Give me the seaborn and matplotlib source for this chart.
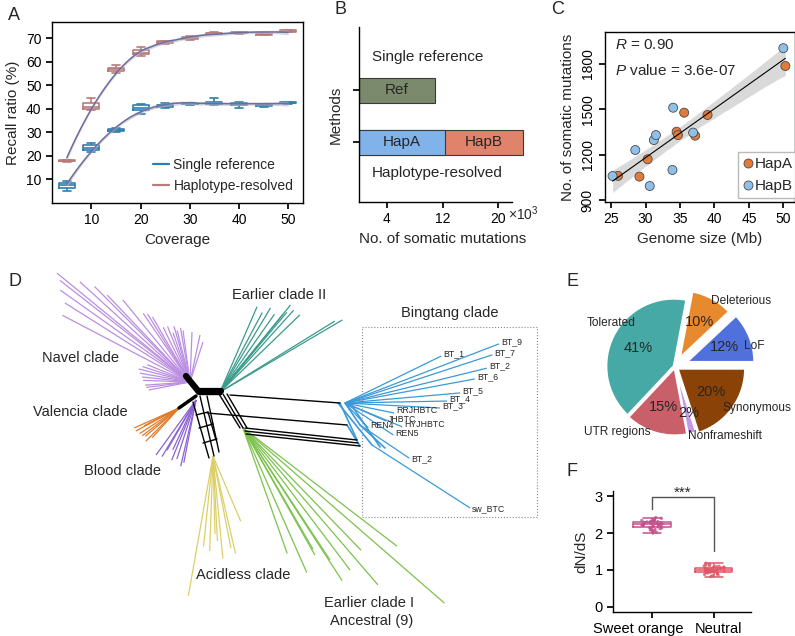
import numpy as np
import pandas as pd
import matplotlib
matplotlib.use("Agg")
import matplotlib.pyplot as plt
import matplotlib.transforms as mtransforms
from matplotlib.lines import Line2D
import seaborn as sns

# ---------------- data ----------------
# A: recall ratio per coverage, five replicates each
coverage = [5, 10, 15, 20, 25, 30, 35, 40, 45, 50]
single_reps = [
    [5.0, 6.5, 7.5, 8.5, 9.5],
    [21.5, 22.5, 23.5, 24.5, 25.5],
    [30.2, 30.5, 31.0, 31.4, 31.8],
    [38.0, 39.5, 40.5, 41.5, 42.0],
    [40.5, 41.0, 41.5, 41.8, 42.5],
    [41.8, 42.0, 42.1, 42.3, 42.5],
    [41.5, 42.0, 42.5, 43.0, 44.5],
    [40.5, 41.5, 42.0, 42.5, 43.0],
    [41.0, 41.3, 41.6, 42.0, 42.3],
    [42.3, 42.5, 42.7, 42.9, 43.0],
]
hap_reps = [
    [17.6, 17.8, 18.0, 18.2, 18.4],
    [39.5, 40.2, 41.0, 42.5, 44.5],
    [55.5, 56.0, 56.8, 57.5, 58.5],
    [62.5, 63.2, 64.0, 65.0, 66.5],
    [67.5, 68.0, 68.3, 68.8, 69.0],
    [69.2, 69.6, 70.0, 70.5, 71.0],
    [71.7, 72.0, 72.2, 72.4, 72.6],
    [72.0, 72.2, 72.4, 72.6, 72.8],
    [71.3, 71.6, 71.8, 72.0, 72.2],
    [72.6, 72.9, 73.1, 73.4, 73.7],
]
methods_a = ["Single reference", "Haplotype-resolved"]

# B: somatic mutations (x10^3)
methods_b = ["Single reference", "Haplotype-resolved"]
ref_mut = 10.9
hapA_mut_total = 12.3
hapB_mut_total = 11.3

# C: genome size vs somatic mutations
hapA_size = [26.0, 29.1, 30.3, 34.5, 34.7, 35.6, 37.2, 39.0, 50.3]
hapA_mut = [1060, 1055, 1170, 1352, 1330, 1478, 1326, 1463, 1787]
hapB_size = [25.2, 28.5, 30.6, 31.2, 31.5, 33.9, 34.0, 36.9, 50.0]
hapB_mut = [1059, 1231, 993, 1297, 1330, 1099, 1511, 1346, 1905]

# E: mutation effect categories (%)
effect_labels = ["LoF", "Deleterious", "Tolerated", "UTR regions", "Nonframeshift", "Synonymous"]
effect_pct = [12, 10, 41, 15, 2, 20]

# F: dN/dS
sweet_dnds = [2.00, 2.02, 2.05, 2.06, 2.08, 2.10, 2.11, 2.12, 2.14, 2.15, 2.17, 2.18, 2.19, 2.20,
              2.21, 2.22, 2.22, 2.23, 2.24, 2.24, 2.25, 2.25, 2.26, 2.26, 2.27, 2.27, 2.28, 2.28,
              2.29, 2.30, 2.30, 2.31, 2.32, 2.33, 2.34, 2.35, 2.36, 2.38, 2.40, 2.42]
neutral_dnds = [0.82, 0.85, 0.86, 0.88, 0.90, 0.91, 0.92, 0.93, 0.94, 0.95, 0.96, 0.97, 0.97, 0.98,
                0.98, 0.99, 0.99, 1.00, 1.00, 1.00, 1.01, 1.01, 1.02, 1.02, 1.03, 1.03, 1.04, 1.04,
                1.05, 1.05, 1.06, 1.07, 1.08, 1.09, 1.10, 1.11, 1.12, 1.14, 1.16, 1.18]

# D: network layout (hub node, ray angle in degrees, ray length)
navel_hub = (190, 382)
navel_ang = [140.7, 144.7, 147.7, 152.4, 137.7, 133.6, 129.3, 124.3, 116.1, 109, 97.7, 87.7, 78, 72,
             100, 104, 106, 112, 120, 122, 135, 142, 158, 165.7, 170, 174, 184, 191, 162, 178, 187]
navel_len = [172, 159, 148, 144, 149, 120, 106, 83, 61, 52, 52, 50, 48, 42,
             55, 53, 58, 60, 75, 80, 135, 165, 46, 53, 51, 48, 45, 42, 50, 47, 44]
valencia_hub = (179, 408)
valencia_ang = [204, 208, 213, 217, 225, 228, 207, 220]
valencia_len = [49, 49, 47, 46, 47, 40, 39, 44]
blood_hub = (196, 400)
blood_ang = [234, 239, 240, 248, 257, 259, 245, 252]
blood_len = [68, 66, 58, 65, 68, 64, 55, 62]
acidless_hub = (213, 456)
acidless_ang = [260, 264, 271.5, 275.5, 281, 283, 293, 273, 268]
acidless_len = [142, 91, 78, 103, 94, 100, 71, 85, 95]
early2_hub = (220, 392)
early2_ang = [66.5, 59, 51, 44, 48, 50, 51, 30.5, 31.7, 55, 62]
early2_len = [93, 98, 112, 111, 110, 104, 100, 142, 135, 95, 90]
early1_hub = (243, 428)
early1_ang = [293.8, 289.4, 299.5, 322.5, 319, 314, 303, 307, 310.7, 303.4, 300]
early1_len = [158, 133, 146, 194, 267, 170, 182, 178, 207, 158, 140]
bt_hub = (345, 403)
bt_names = ["BT_9", "BT_1", "BT_7", "BT_2", "BT_6", "BT_5", "BT_4", "BT_3",
            "RRJHBTC", "JHBTC", "REN4", "HYJHBTC", "REN5"]
bt_ang = [21, 26, 18.1, 13.8, 10.5, 5, 1.1, -3, -11.5, -23.7, -47, -22.6, -33.5]
bt_len = [165, 107, 155, 146, 132, 115.4, 102, 95, 50, 45, 34, 62, 58]
bt_low_hubs = [(360, 425), (372, 445)]
bt_low_names = ["BT_2", "sw_BTC"]
bt_low_ang = [-34, -32.7]
bt_low_len = [59, 116]
black_net = [
    [(186, 376), (199, 392)], [(199, 391), (221, 391)], [(196, 396), (179, 408)],
    [(199, 394), (221, 394)],
    [(193, 402), (209, 458)], [(200, 396), (214, 456)], [(207, 396), (219, 452)],
    [(196, 415), (208, 412)], [(199, 428), (213, 424)], [(203, 443), (217, 439)],
    [(208, 412), (216, 440)],
    [(219, 394), (240, 428)], [(223, 394), (243, 428)], [(227, 394), (247, 428)],
    [(230, 395), (340, 403)], [(207, 413), (242, 416)], [(242, 416), (347, 425)],
    [(245, 428), (357, 440)], [(245, 431), (358, 443)], [(246, 434), (360, 446)],
]
blue_net = [
    [(338, 403), (372, 445)], [(345, 403), (360, 425)], [(350, 403), (380, 447)],
    [(360, 425), (385, 448)], [(340, 403), (357, 440)], [(347, 425), (360, 446)],
]

# ---------------- style ----------------
sns.set_theme(style="ticks")
plt.rcParams["font.family"] = ["Liberation Sans", "DejaVu Sans"]
plt.rcParams["mathtext.fontset"] = "custom"
plt.rcParams["mathtext.rm"] = "Liberation Sans"
plt.rcParams["mathtext.it"] = "Liberation Sans:italic"
plt.rcParams["axes.edgecolor"] = "black"
plt.rcParams["axes.linewidth"] = 1.0
plt.rcParams["xtick.color"] = "black"
plt.rcParams["ytick.color"] = "black"
np.random.seed(0)

W, H = 795, 636
fig = plt.figure(figsize=(W / 100, H / 100), dpi=100)


def place(l, t, r, b):
    return fig.add_axes([l / W, 1 - b / H, (r - l) / W, (b - t) / H])


def panel_label(x, y, s):
    fig.text(x / W, 1 - y / H, s, fontsize=13, ha="left", va="center")


def loess(x, y, grid, span=0.75):
    """local quadratic fit with tricube weights, returns fit and std. error"""
    x = np.asarray(x, float)
    y = np.asarray(y, float)
    n = len(x)
    q = int(np.floor(n * span))

    def rows(points):
        out = []
        for x0 in points:
            d = np.abs(x - x0)
            h = np.sort(d)[q - 1]
            w = np.clip(1 - (d / h) ** 3, 0, None) ** 3
            X = np.vstack([np.ones(n), x - x0, (x - x0) ** 2]).T
            WX = X * w[:, None]
            out.append(np.linalg.solve(X.T @ WX, WX.T)[0])
        return np.array(out)

    S = rows(x)
    resid = y - S @ y
    sigma = np.sqrt(np.sum(resid ** 2) / (n - np.trace(S)))
    L = rows(grid)
    return L @ y, sigma * np.sqrt(np.sum(L ** 2, axis=1))


# ---------------- A ----------------
axA = place(52, 22, 303, 203)
rows = []
for cov, s_vals, h_vals in zip(coverage, single_reps, hap_reps):
    for v in s_vals:
        rows.append((cov, v, "Single reference"))
    for v in h_vals:
        rows.append((cov, v, "Haplotype-resolved"))
dfA = pd.DataFrame(rows, columns=["coverage", "recall", "method"])
pal_a = {"Single reference": "#2f7fae", "Haplotype-resolved": "#b97a7a"}
sns.boxplot(data=dfA, x="coverage", y="recall", hue="method", native_scale=True, dodge=False,
            fill=False, width=0.65, linewidth=1.2, palette=pal_a, showfliers=False,
            legend=False, ax=axA)
grid = np.linspace(5, 50, 120)
for m in methods_a:
    sub = dfA[dfA.method == m]
    fit, se = loess(sub.coverage, sub.recall, grid)
    axA.fill_between(grid, fit - 1.96 * se, fit + 1.96 * se, color="#b8b8c4", alpha=0.6,
                     lw=0, zorder=4)
    sns.lineplot(x=grid, y=fit, color="#6d6d9e", lw=1.1, ax=axA, zorder=5)
axA.set_xlim(2, 53)
axA.set_ylim(0, 77)
axA.set_xticks([10, 20, 30, 40, 50])
axA.set_yticks([10, 20, 30, 40, 50, 60, 70])
axA.tick_params(labelsize=10, length=4)
axA.set_xlabel("Coverage", fontsize=11)
axA.set_ylabel("Recall ratio (%)", fontsize=11)
handles = [Line2D([], [], color=pal_a[m], lw=1.6) for m in methods_a]
axA.legend(handles, methods_a, loc="lower right", frameon=False, fontsize=10,
           handlelength=1.2, handletextpad=0.3, borderaxespad=0.3)

# ---------------- B ----------------
axB = place(359, 27, 526, 202)
sns.barplot(x=[ref_mut, hapA_mut_total + hapB_mut_total], y=methods_b, order=methods_b,
            hue=methods_b, palette=["#7b8a6d", "#e0836a"], saturation=1, width=0.48,
            edgecolor="#3a3a3a", linewidth=0.8, legend=False, orient="h", ax=axB)
sns.barplot(x=[hapA_mut_total], y=["Haplotype-resolved"], order=methods_b, color="#7fb3ea",
            saturation=1, width=0.48, edgecolor="#3a3a3a", linewidth=0.8, orient="h", ax=axB)
axB.set_xlim(0, 24)
axB.set_ylim(2.15, -1.21)
axB.set_xticks([4, 12, 20])
axB.set_yticks([0, 1])
axB.set_yticklabels([])
axB.spines["bottom"].set_bounds(0, 22)
sns.despine(ax=axB)
axB.tick_params(labelsize=10, length=4)
axB.set_xlabel("No. of somatic mutations", fontsize=11)
axB.set_ylabel("Methods", fontsize=11)
axB.text(ref_mut / 2, 0, "Ref", ha="center", va="center", fontsize=11)
axB.text(hapA_mut_total / 2, 1, "HapA", ha="center", va="center", fontsize=11)
axB.text(hapA_mut_total + hapB_mut_total / 2, 1, "HapB", ha="center", va="center", fontsize=11)
axB.text(1.9, -0.63, "Single reference", ha="left", va="center", fontsize=11)
axB.text(1.9, 1.6, "Haplotype-resolved", ha="left", va="center", fontsize=11)
fig.text(508 / W, 1 - 214 / H, r"$\times10^3$", fontsize=10, ha="left", va="center")

# ---------------- C ----------------
axC = place(605, 32, 795, 202)
dfC = pd.DataFrame({"size": hapA_size + hapB_size, "mut": hapA_mut + hapB_mut,
                    "hap": ["HapA"] * len(hapA_size) + ["HapB"] * len(hapB_size)})
sns.regplot(data=dfC, x="size", y="mut", scatter=False, color="black",
            line_kws={"lw": 0.8}, seed=0, ax=axC)
sns.scatterplot(data=dfC, x="size", y="mut", hue="hap",
                palette={"HapA": "#e07b3c", "HapB": "#8ec0ea"}, s=42,
                edgecolor="#4a4a4a", linewidth=0.6, ax=axC)
axC.set_xlim(24.1, 51.7)
axC.set_ylim(887, 2012)
axC.set_xticks([25, 30, 35, 40, 45, 50])
axC.set_yticks([900, 1200, 1500, 1800])
axC.tick_params(labelsize=10, length=4)
for lab in axC.get_yticklabels():
    lab.set_rotation(90)
    lab.set_va("center")
axC.set_xlabel("Genome size (Mb)", fontsize=11)
axC.set_ylabel("No. of somatic mutations", fontsize=11)
axC.text(0.053, 0.924, r"$\it{R}$ = 0.90", transform=axC.transAxes, fontsize=11, va="center")
axC.text(0.053, 0.776, r"$\it{P}$ value = 3.6e-07", transform=axC.transAxes, fontsize=11,
         va="center")
h, l = axC.get_legend_handles_labels()
axC.legend(h, l, loc="upper left", bbox_to_anchor=(0.70, 0.294), frameon=True, fancybox=False,
           edgecolor="#aaaaaa", fontsize=11, handlelength=0.6, handletextpad=0.15,
           borderpad=0.35, borderaxespad=0)

# ---------------- D ----------------
axD = place(0, 255, 560, 636)
axD.set_xlim(0, 560)
axD.set_ylim(636, 255)
axD.axis("off")


def rays(hub, angles, lengths, color, lw=0.9):
    for a, L in zip(angles, lengths):
        t = np.deg2rad(a)
        axD.plot([hub[0], hub[0] + L * np.cos(t)], [hub[1], hub[1] - L * np.sin(t)],
                 color=color, lw=lw, solid_capstyle="butt")


rays(navel_hub, navel_ang, navel_len, "#bb8ee2")
rays(valencia_hub, valencia_ang, valencia_len, "#e07a28")
rays(blood_hub, blood_ang, blood_len, "#8c62d2")
rays(acidless_hub, acidless_ang, acidless_len, "#dccf6a")
rays(early2_hub, early2_ang, early2_len, "#3a9a8c")
rays(early1_hub, early1_ang, early1_len, "#7cc24c")
rays(bt_hub, bt_ang, bt_len, "#3a9ad8")
for seg in blue_net:
    axD.plot([seg[0][0], seg[1][0]], [seg[0][1], seg[1][1]], color="#3a9ad8", lw=1.2)
for i, seg in enumerate(black_net):
    lw = 4.5 if i < 2 else (2.5 if i == 2 else 1.0)
    axD.plot([seg[0][0], seg[1][0]], [seg[0][1], seg[1][1]], color="black", lw=lw)
for name, a, L in zip(bt_names, bt_ang, bt_len):
    t = np.deg2rad(a)
    x, y = bt_hub[0] + L * np.cos(t), bt_hub[1] - L * np.sin(t)
    axD.text(x + 2, y - 2, name, fontsize=6.3, ha="left", va="center")
for hub, name, a, L in zip(bt_low_hubs, bt_low_names, bt_low_ang, bt_low_len):
    t = np.deg2rad(a)
    x, y = hub[0] + L * np.cos(t), hub[1] - L * np.sin(t)
    axD.plot([hub[0], x], [hub[1], y], color="#3a9ad8", lw=0.9)
    axD.text(x + 2, y + 1, name, fontsize=6.3, ha="left", va="center")
axD.add_patch(plt.Rectangle((362, 327), 175, 190, fill=False, ec="#888888", lw=0.8, ls=":"))
clade_txt = dict(fontsize=10.5, ha="center", va="center")
axD.text(80, 358, "Navel clade", **clade_txt)
axD.text(80, 412, "Valencia clade", **clade_txt)
axD.text(122, 471, "Blood clade", **clade_txt)
axD.text(243, 575, "Acidless clade", **clade_txt)
axD.text(279, 295, "Earlier clade II", **clade_txt)
axD.text(450, 313, "Bingtang clade", **clade_txt)
axD.text(369, 603, "Earlier clade I", **clade_txt)
axD.text(372, 621, "Ancestral (9)", **clade_txt)

# ---------------- E ----------------
axE = place(590, 285, 795, 445)
wedges, texts, autotexts = axE.pie(
    effect_pct, labels=effect_labels, colors=["#5070dc", "#e8892e", "#46a9a5", "#c85f69",
                                              "#c49ae8", "#8b4206"],
    explode=[0.19, 0.15, 0.02, 0.02, 0.02, 0.05], startangle=0, counterclock=True,
    autopct="%.0f%%", pctdistance=0.6, wedgeprops={"edgecolor": "white", "linewidth": 1.5},
    textprops={"fontsize": 8.6})
for t in autotexts:
    t.set_fontsize(10.5)
autotexts[4].set_position((0.2, -0.68))
label_pos = [(1.03, 0.31, "left"), (0.54, 0.97, "left"), (-0.59, 0.65, "right"),
             (-0.37, -0.97, "right"), (0.19, -1.03, "left"), (0.71, -0.62, "left")]
for t, (x, y, ha) in zip(texts, label_pos):
    t.set_position((x, y))
    t.set_ha(ha)
    t.set_va("center")
axE.set_aspect("equal")
axE.set_xlim(-1.26, 1.78)
axE.set_ylim(-1.16, 1.21)

# ---------------- F ----------------
axF = place(613, 491, 751, 612)
dfF = pd.DataFrame({"group": ["Sweet orange"] * len(sweet_dnds) + ["Neutral"] * len(neutral_dnds),
                    "dnds": sweet_dnds + neutral_dnds})
pal_f = {"Sweet orange": "#c4508c", "Neutral": "#e05666"}
sns.boxplot(data=dfF, x="group", y="dnds", hue="group", palette=pal_f, fill=False, width=0.6,
            linewidth=1.1, showfliers=False, legend=False, ax=axF)
sns.stripplot(data=dfF, x="group", y="dnds", hue="group", palette=pal_f, size=2.4, jitter=0.17,
              alpha=0.8, legend=False, ax=axF, zorder=3)
axF.plot([0, 0, 1, 1], [2.65, 2.98, 2.98, 1.52], color="#555555", lw=1)
axF.text(0.5, 3.1, "***", ha="center", va="center", fontsize=11)
axF.set_xlim(-0.63, 1.6)
axF.set_ylim(-0.14, 3.14)
axF.set_yticks([0, 1, 2, 3])
axF.set_xlabel("")
axF.set_ylabel("dN/dS", fontsize=11)
axF.tick_params(labelsize=10.5, length=4)
sns.despine(ax=axF)
for lab, dx in zip(axF.get_xticklabels(), [-14, 5]):
    lab.set_transform(lab.get_transform() + mtransforms.ScaledTranslation(dx / 100, 0,
                                                                          fig.dpi_scale_trans))

panel_label(8, 15, "A")
panel_label(335, 10, "B")
panel_label(551, 10, "C")
panel_label(8, 282, "D")
panel_label(567, 282, "E")
panel_label(567, 472, "F")

fig.savefig("out.png", dpi=100)
